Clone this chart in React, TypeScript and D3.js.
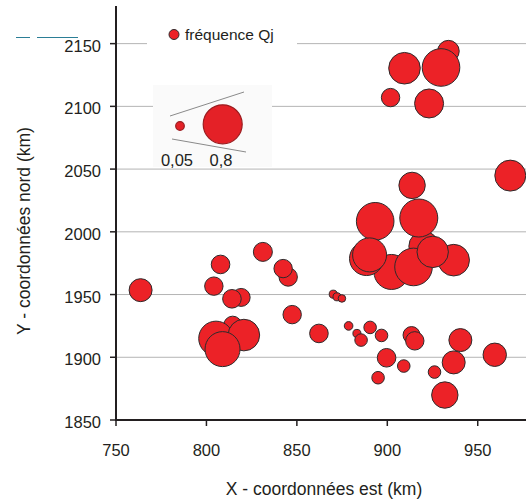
import * as d3 from "d3";

// station coordinates (km) and frequency Qj, in drawing order
const xs = [
  933.8, 929.7, 909.5, 901.8, 923.1, 968, 913.7, 893.3, 920.2, 917.4,
  902.3, 888.5, 890.2, 936.7, 914.5, 925.1, 763.6, 807.8, 831.2, 845.2,
  842.4, 804.1, 819.2, 814.1, 847.4, 814.5, 805.3, 820.7, 808.9, 870.1,
  872.2, 874.9, 862.2, 878.6, 883.2, 885.5, 890.5, 896.8, 899.6, 909.1,
  894.9, 913.4, 915.2, 940.4, 936.7, 959.4, 926.1, 931.8,
];
const ys = [
  2144, 2131, 2130.4, 2107, 2102.3, 2044.8, 2037, 2008.4, 1988.5, 2011,
  1968, 1978.7, 1981.6, 1977.4, 1972, 1984, 1953.5, 1974, 1984, 1964,
  1970.7, 1956.7, 1947.7, 1946.6, 1934, 1925.6, 1915, 1917.7, 1906.5, 1950.3,
  1948.2, 1946.9, 1919, 1925, 1919, 1913.7, 1923.8, 1917.4, 1899.6, 1893,
  1883.7, 1917.7, 1913.1, 1913.7, 1895.9, 1902, 1888.2, 1869.9,
];
const qs = [
  0.245, 0.744, 0.525, 0.178, 0.442, 0.505, 0.367, 0.744, 0.473, 0.76,
  0.644, 0.608, 0.608, 0.525, 0.744, 0.519, 0.278, 0.182, 0.19, 0.178,
  0.178, 0.178, 0.17, 0.182, 0.178, 0.17, 0.63, 0.525, 0.644, 0.034,
  0.034, 0.03, 0.182, 0.039, 0.034, 0.083, 0.083, 0.083, 0.182, 0.083,
  0.083, 0.152, 0.178, 0.278, 0.278, 0.288, 0.083, 0.367,
];

const xTicks = [750, 800, 850, 900, 950];
const yTicks = [1850, 1900, 1950, 2000, 2050, 2100, 2150];
const legendSizes = [0.05, 0.8];
const legendLabels = ["0,05", "0,8"];

const W = 526;
const H = 503;
const font = "'Liberation Sans', Arial, sans-serif";
const red = "#ec2227";

export default function App() {
  const x = d3.scaleLinear().domain([750, 980]).range([116, 532]);
  const y = d3.scaleLinear().domain([1850, 2180]).range([420, 6]);
  const r = d3.scaleSqrt().domain([0, 0.8]).range([0, 19.5]);

  const x0 = x(750);
  const yBottom = y(1850);

  return (
    <svg
      width={W}
      height={H}
      style={{ position: "absolute", left: 0, top: 0, background: "#fff" }}
    >
      {/* gridlines */}
      {yTicks.slice(1).map((t) => (
        <line key={t} x1={x0} x2={W} y1={y(t)} y2={y(t)} stroke="#b4b4b4" strokeWidth={1} />
      ))}

      {/* stray dashed mark top-left */}
      <line x1={16} x2={78} y1={37.5} y2={37.5} stroke="#2b7e96" strokeWidth={1} strokeDasharray="14,7,41" />

      {/* bubbles */}
      {xs.map((xv, i) => (
        <circle
          key={i}
          cx={x(xv)}
          cy={y(ys[i])}
          r={r(qs[i])}
          fill={red}
          stroke="#2e2a2b"
          strokeWidth={1}
        />
      ))}

      {/* axes */}
      <line x1={x0} x2={x0} y1={6} y2={yBottom + 1} stroke="#231f20" strokeWidth={2} />
      <line x1={x0 - 1} x2={W} y1={yBottom} y2={yBottom} stroke="#231f20" strokeWidth={2} />
      {yTicks.map((t) => (
        <g key={t}>
          <line x1={x0 - 6} x2={x0} y1={y(t)} y2={y(t)} stroke="#231f20" strokeWidth={1.5} />
          <text
            x={101}
            y={y(t) + 8}
            textAnchor="end"
            fontFamily={font}
            fontSize={16.5}
            fill="#231f20"
          >
            {t}
          </text>
        </g>
      ))}
      {xTicks.map((t) => (
        <g key={t}>
          <line x1={x(t)} x2={x(t)} y1={yBottom} y2={yBottom + 6} stroke="#231f20" strokeWidth={1.5} />
          <text
            x={x(t)}
            y={456}
            textAnchor="middle"
            fontFamily={font}
            fontSize={16.5}
            fill="#231f20"
          >
            {t}
          </text>
        </g>
      ))}

      {/* axis titles */}
      <text x={324} y={495} textAnchor="middle" fontFamily={font} fontSize={17.5} fill="#231f20">
        X - coordonnées est (km)
      </text>
      <text
        transform="translate(29.5,231) rotate(-90)"
        textAnchor="middle"
        fontFamily={font}
        fontSize={17.5}
        fill="#231f20"
      >
        Y - coordonnées nord (km)
      </text>

      {/* series legend */}
      <rect x={147} y={22} width={150} height={28} fill="#fff" />
      <circle cx={174} cy={34.5} r={5} fill={red} stroke="#2e2a2b" strokeWidth={1} />
      <text x={185} y={40} fontFamily={font} fontSize={15.5} fill="#231f20">
        fréquence Qj
      </text>

      {/* size legend */}
      <rect x={153} y={85} width={119} height={82} fill="#fafafa" />
      <line x1={170} y1={116} x2={244} y2={92} stroke="#8a8a8a" strokeWidth={1} />
      <line x1={172} y1={139} x2={246} y2={152} stroke="#8a8a8a" strokeWidth={1} />
      {legendSizes.map((s, i) => (
        <g key={s}>
          <circle
            cx={i === 0 ? 180 : 222.7}
            cy={i === 0 ? 126 : 124.3}
            r={i === 0 ? 4.3 : r(s)}
            fill="#e42127"
            stroke="#9b1c1f"
            strokeWidth={1.2}
          />
          <text
            x={i === 0 ? 177 : 221}
            y={166}
            textAnchor="middle"
            fontFamily={font}
            fontSize={16.5}
            fill="#231f20"
          >
            {legendLabels[i]}
          </text>
        </g>
      ))}
    </svg>
  );
}
